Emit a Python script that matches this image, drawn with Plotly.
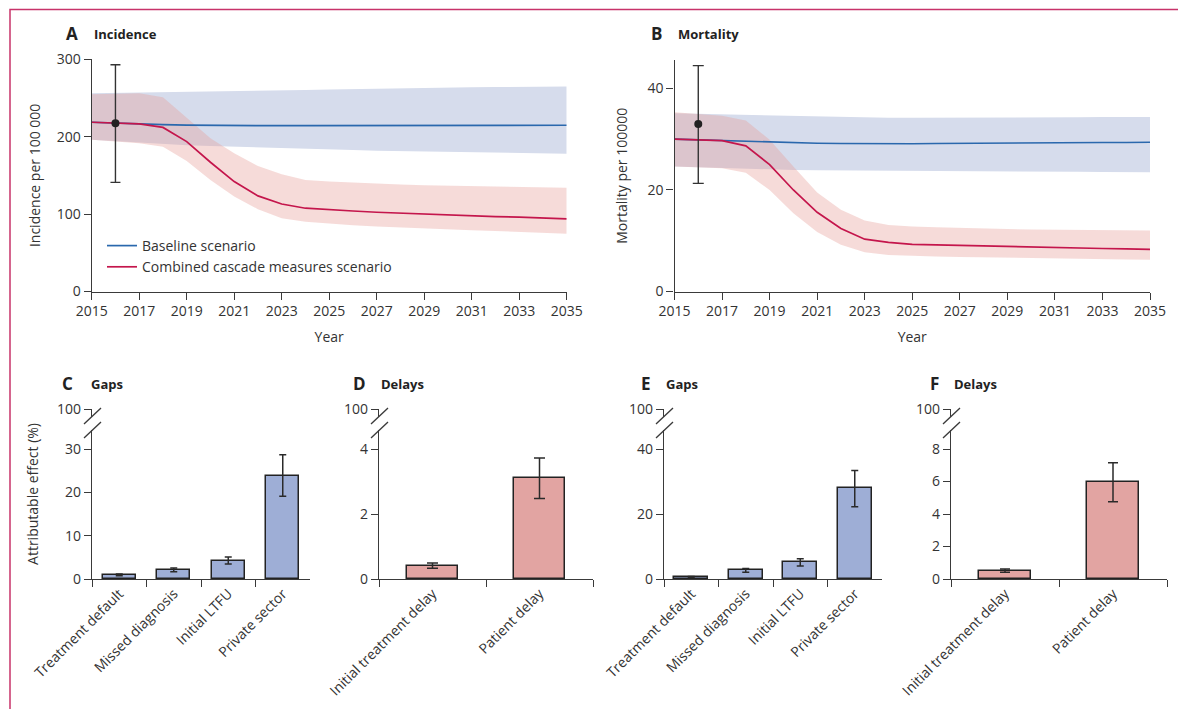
import plotly.graph_objects as go

# ---------------- data ----------------
years = list(range(2015, 2036))

inc_base = [218.7, 217.5, 216.3, 215.6, 215.0, 214.6, 214.3, 214.2, 214.2, 214.2, 214.3,
            214.3, 214.4, 214.4, 214.5, 214.5, 214.5, 214.6, 214.6, 214.7, 214.8]
inc_base_hi = [256.0, 256.4, 256.8, 257.2, 257.6, 258.0, 258.6, 259.2, 259.8, 260.4, 261.0,
               261.6, 262.2, 262.6, 263.0, 263.4, 263.8, 264.1, 264.3, 264.5, 264.7]
inc_base_lo = [196.0, 194.0, 192.3, 190.5, 189.0, 188.0, 187.0, 186.0, 185.0, 184.3, 183.6,
               182.8, 182.0, 181.5, 181.0, 180.5, 180.0, 179.5, 179.0, 178.5, 178.0]
inc_comb = [218.7, 217.6, 216.5, 212.0, 193.7, 167.0, 142.0, 123.5, 113.0, 107.6, 105.5,
            104.0, 102.4, 101.1, 99.9, 98.8, 97.7, 96.8, 96.0, 94.9, 93.8]
inc_comb_hi = [255.0, 255.6, 256.0, 251.0, 224.0, 198.0, 178.6, 162.0, 151.5, 144.0, 142.0,
               140.4, 139.0, 138.1, 137.3, 136.6, 136.0, 135.5, 135.0, 134.5, 134.0]
inc_comb_lo = [196.0, 193.7, 191.5, 187.0, 168.7, 144.0, 122.7, 106.3, 94.7, 90.0, 87.4,
               85.6, 84.0, 82.6, 81.3, 80.2, 79.2, 78.1, 77.0, 75.8, 74.5]

mort_base = [30.0, 29.85, 29.7, 29.55, 29.4, 29.3, 29.2, 29.15, 29.1, 29.1, 29.1,
             29.15, 29.2, 29.2, 29.2, 29.25, 29.3, 29.3, 29.35, 29.35, 29.4]
mort_base_hi = [35.1, 35.0, 34.9, 34.75, 34.6, 34.5, 34.4, 34.3, 34.2, 34.2, 34.2,
                34.2, 34.2, 34.25, 34.25, 34.3, 34.3, 34.3, 34.35, 34.35, 34.35]
mort_base_lo = [24.6, 24.45, 24.3, 24.15, 24.0, 23.93, 23.87, 23.83, 23.8, 23.78, 23.75,
                23.73, 23.7, 23.68, 23.65, 23.62, 23.6, 23.57, 23.55, 23.52, 23.5]
mort_comb = [30.0, 29.85, 29.7, 28.7, 25.0, 20.0, 15.6, 12.4, 10.3, 9.66, 9.3,
             9.18, 9.06, 8.93, 8.8, 8.7, 8.6, 8.53, 8.47, 8.38, 8.28]
mort_comb_hi = [35.3, 34.95, 34.6, 33.7, 29.9, 24.6, 19.5, 16.1, 14.0, 13.1, 12.8,
                12.65, 12.5, 12.4, 12.3, 12.2, 12.15, 12.12, 12.1, 12.05, 12.0]
mort_comb_lo = [24.6, 24.45, 24.3, 23.4, 20.0, 15.4, 11.7, 9.2, 7.75, 7.2, 7.0,
                6.9, 6.8, 6.75, 6.7, 6.63, 6.57, 6.48, 6.4, 6.32, 6.24]

obs_year = [2016]
inc_obs, inc_obs_lo, inc_obs_hi = [217.4], [141.0], [293.0]
mort_obs, mort_obs_lo, mort_obs_hi = [33.0], [21.3], [44.5]

gap_cats = ["Treatment default", "Missed diagnosis", "Initial LTFU", "Private sector"]
delay_cats = ["Initial treatment delay", "Patient delay"]

gapsC = [0.95, 2.15, 4.25, 23.85]
gapsC_lo = [0.75, 1.7, 3.45, 19.1]
gapsC_hi = [1.15, 2.55, 5.1, 28.65]
delaysD = [0.41, 3.11]
delaysD_lo = [0.33, 2.48]
delaysD_hi = [0.49, 3.72]
gapsE = [0.6, 2.7, 5.1, 27.9]
gapsE_lo = [0.45, 2.1, 4.0, 22.2]
gapsE_hi = [0.75, 3.2, 6.2, 33.4]
delaysF = [0.51, 5.97]
delaysF_lo = [0.41, 4.76]
delaysF_hi = [0.62, 7.16]

yticksC = [0, 10, 20, 30]
yticksD = [0, 2, 4]
yticksE = [0, 20, 40]
yticksF = [0, 2, 4, 6, 8]
break_label = "100"

# ---------------- styling ----------------
OFF = 8                      # page body margin
W, H = 1186 - OFF, 709 - OFF
FONT = "Open Sans"
TXT = "#333333"
AX = "#3a3a3a"
BLUE = "#2a68ad"
RED = "#c4164c"
BLUE_BAND = "rgba(214,220,236,1)"
RED_BAND = "rgba(232,160,155,0.38)"
BAR_BLUE = "#9eaed6"
BAR_RED = "#e2a4a2"


def fx(p):
    return (p - OFF) / W


def fy(p):
    return 1 - (p - OFF) / H


fig = go.Figure()


def err(vals, lo, hi):
    return dict(type="data", symmetric=False,
                array=[h - v for v, h in zip(vals, hi)],
                arrayminus=[v - l for v, l in zip(vals, lo)])


def add_bands_lines(xa, ya, base, base_lo, base_hi, comb, comb_lo, comb_hi, legend):
    fig.add_trace(go.Scatter(x=years, y=base_lo, mode="lines", line=dict(width=0),
                             showlegend=False, hoverinfo="skip", xaxis=xa, yaxis=ya))
    fig.add_trace(go.Scatter(x=years, y=base_hi, mode="lines", line=dict(width=0),
                             fill="tonexty", fillcolor=BLUE_BAND,
                             showlegend=False, hoverinfo="skip", xaxis=xa, yaxis=ya))
    fig.add_trace(go.Scatter(x=years, y=comb_lo, mode="lines", line=dict(width=0),
                             showlegend=False, hoverinfo="skip", xaxis=xa, yaxis=ya))
    fig.add_trace(go.Scatter(x=years, y=comb_hi, mode="lines", line=dict(width=0),
                             fill="tonexty", fillcolor=RED_BAND,
                             showlegend=False, hoverinfo="skip", xaxis=xa, yaxis=ya))
    fig.add_trace(go.Scatter(x=years, y=base, mode="lines", line=dict(color=BLUE, width=1.7),
                             name="Baseline scenario", showlegend=legend, xaxis=xa, yaxis=ya))
    fig.add_trace(go.Scatter(x=years, y=comb, mode="lines", line=dict(color=RED, width=1.7),
                             name="Combined cascade measures scenario", showlegend=legend,
                             xaxis=xa, yaxis=ya))


add_bands_lines("x", "y", inc_base, inc_base_lo, inc_base_hi,
                inc_comb, inc_comb_lo, inc_comb_hi, True)
fig.add_trace(go.Scatter(x=obs_year, y=inc_obs, mode="markers",
                         marker=dict(color="#222222", size=8),
                         error_y=dict(**err(inc_obs, inc_obs_lo, inc_obs_hi),
                                      color="#333333", thickness=1.4, width=5),
                         showlegend=False, xaxis="x", yaxis="y"))

add_bands_lines("x2", "y2", mort_base, mort_base_lo, mort_base_hi,
                mort_comb, mort_comb_lo, mort_comb_hi, False)
fig.add_trace(go.Scatter(x=obs_year, y=mort_obs, mode="markers",
                         marker=dict(color="#222222", size=8),
                         error_y=dict(**err(mort_obs, mort_obs_lo, mort_obs_hi),
                                      color="#333333", thickness=1.4, width=5.5),
                         showlegend=False, xaxis="x2", yaxis="y2"))


def add_bars(xa, ya, cats, vals, lo, hi, color, width, capw):
    fig.add_trace(go.Bar(x=cats, y=vals, width=width,
                         marker=dict(color=color, line=dict(color="#222222", width=1.5)),
                         error_y=dict(**err(vals, lo, hi), color="#2a2a2a",
                                      thickness=1.5, width=capw),
                         showlegend=False, xaxis=xa, yaxis=ya))


add_bars("x3", "y3", gap_cats, gapsC, gapsC_lo, gapsC_hi, BAR_BLUE, 0.6, 3.5)
add_bars("x4", "y4", delay_cats, delaysD, delaysD_lo, delaysD_hi, BAR_RED, 0.48, 5.5)
add_bars("x5", "y5", gap_cats, gapsE, gapsE_lo, gapsE_hi, BAR_BLUE, 0.62, 3.5)
add_bars("x6", "y6", delay_cats, delaysF, delaysF_lo, delaysF_hi, BAR_RED, 0.48, 5)

tickfont = dict(family=FONT, size=14, color=TXT)
common_axis = dict(showgrid=False, zeroline=False, showline=True, linecolor=AX, linewidth=1.3,
                   ticks="outside", ticklen=7, tickwidth=1.3, tickcolor=AX,
                   tickfont=tickfont, automargin=False)

layout = dict(
    width=W, height=H, margin=dict(l=0, r=0, t=0, b=0),
    paper_bgcolor="white", plot_bgcolor="rgba(0,0,0,0)",
    font=dict(family=FONT, size=14, color=TXT),
    bargap=0,
    legend=dict(x=fx(102), y=fy(230), xanchor="left", yanchor="top", traceorder="normal",
                bgcolor="rgba(0,0,0,0)", font=dict(family=FONT, size=14, color=TXT),
                tracegroupgap=0),
)

# Panel A
layout["xaxis"] = dict(common_axis, domain=[fx(91.7), fx(566.7)], range=[2015, 2035],
                       tickvals=list(range(2015, 2036, 2)), anchor="y",
                       title=dict(text="Year", standoff=12, font=tickfont))
layout["yaxis"] = dict(common_axis, domain=[fy(291.5), fy(59.3)], range=[0, 300],
                       tickvals=[0, 100, 200, 300], anchor="x",
                       title=dict(text="Incidence per 100 000", standoff=12, font=tickfont))
# Panel B
layout["xaxis2"] = dict(common_axis, domain=[fx(674.5), fx(1150)], range=[2015, 2035],
                        tickvals=list(range(2015, 2036, 2)), anchor="y2",
                        title=dict(text="Year", standoff=12, font=tickfont))
layout["yaxis2"] = dict(common_axis, domain=[fy(291.5), fy(60)], range=[0, 45.6],
                        tickvals=[0, 20, 40], anchor="x2",
                        title=dict(text="Mortality per 100000", standoff=16, font=tickfont))

bottom = [
    ("3", 92, 310, gap_cats, yticksC),
    ("4", 379, 593, delay_cats, yticksD),
    ("5", 664, 882, gap_cats, yticksE),
    ("6", 951, 1167, delay_cats, yticksF),
]
shapes = []
y0px, ytoppx, ylastpx = 579, 409, 449
for k, x0, x1, cats, ticks in bottom:
    top = ticks[-1] * (y0px - ytoppx) / (y0px - ylastpx)
    layout["xaxis" + k] = dict(common_axis, domain=[fx(x0), fx(x1)], type="category",
                               tickson="boundaries", tickangle=-45, anchor="y" + k,
                               range=[-0.5, len(cats) - 0.5])
    ydict = dict(common_axis, domain=[fy(y0px), fy(ytoppx)], range=[0, top],
                 tickvals=ticks + [top], ticktext=[str(t) for t in ticks] + [break_label],
                 anchor="x" + k)
    if k == "3":
        ydict["title"] = dict(text="Attributable effect (%)", standoff=15, font=tickfont)
    layout["yaxis" + k] = ydict
    # axis break
    shapes.append(dict(type="rect", xref="paper", yref="paper",
                       x0=fx(x0 - 3), x1=fx(x0 + 3), y0=fy(430), y1=fy(417),
                       fillcolor="white", line=dict(width=0), layer="above"))
    for dy in (0, 14):
        shapes.append(dict(type="line", xref="paper", yref="paper",
                           x0=fx(x0 - 8), y0=fy(424 + dy), x1=fx(x0 + 9), y1=fy(408 + dy),
                           line=dict(color=AX, width=1.3), layer="above"))

# outer border
shapes.append(dict(type="rect", xref="paper", yref="paper",
                   x0=fx(10), x1=fx(1182.5), y0=-0.1, y1=fy(9.5),
                   line=dict(color="#c8336a", width=1.5), fillcolor="rgba(0,0,0,0)",
                   layer="above"))
layout["shapes"] = shapes

panels = [("A", "Incidence", 80, 92, 33), ("B", "Mortality", 664, 676, 33),
          ("C", "Gaps", 75, 89, 383), ("D", "Delays", 368, 379, 383),
          ("E", "Gaps", 653, 664, 383), ("F", "Delays", 941, 952, 383)]
ann = []
for letter, word, xl, xw, yc in panels:
    ann.append(dict(text=letter, x=fx(xl), y=fy(yc), xref="paper", yref="paper",
                    xanchor="right", yanchor="middle", showarrow=False,
                    font=dict(family=FONT, size=17, color="#222222", weight="bold")))
    ann.append(dict(text=word, x=fx(xw), y=fy(yc + 1), xref="paper", yref="paper",
                    xanchor="left", yanchor="middle", showarrow=False,
                    font=dict(family=FONT, size=13, color="#222222", weight="bold")))
layout["annotations"] = ann

fig.update_layout(**layout)
fig.write_html("out.html")
